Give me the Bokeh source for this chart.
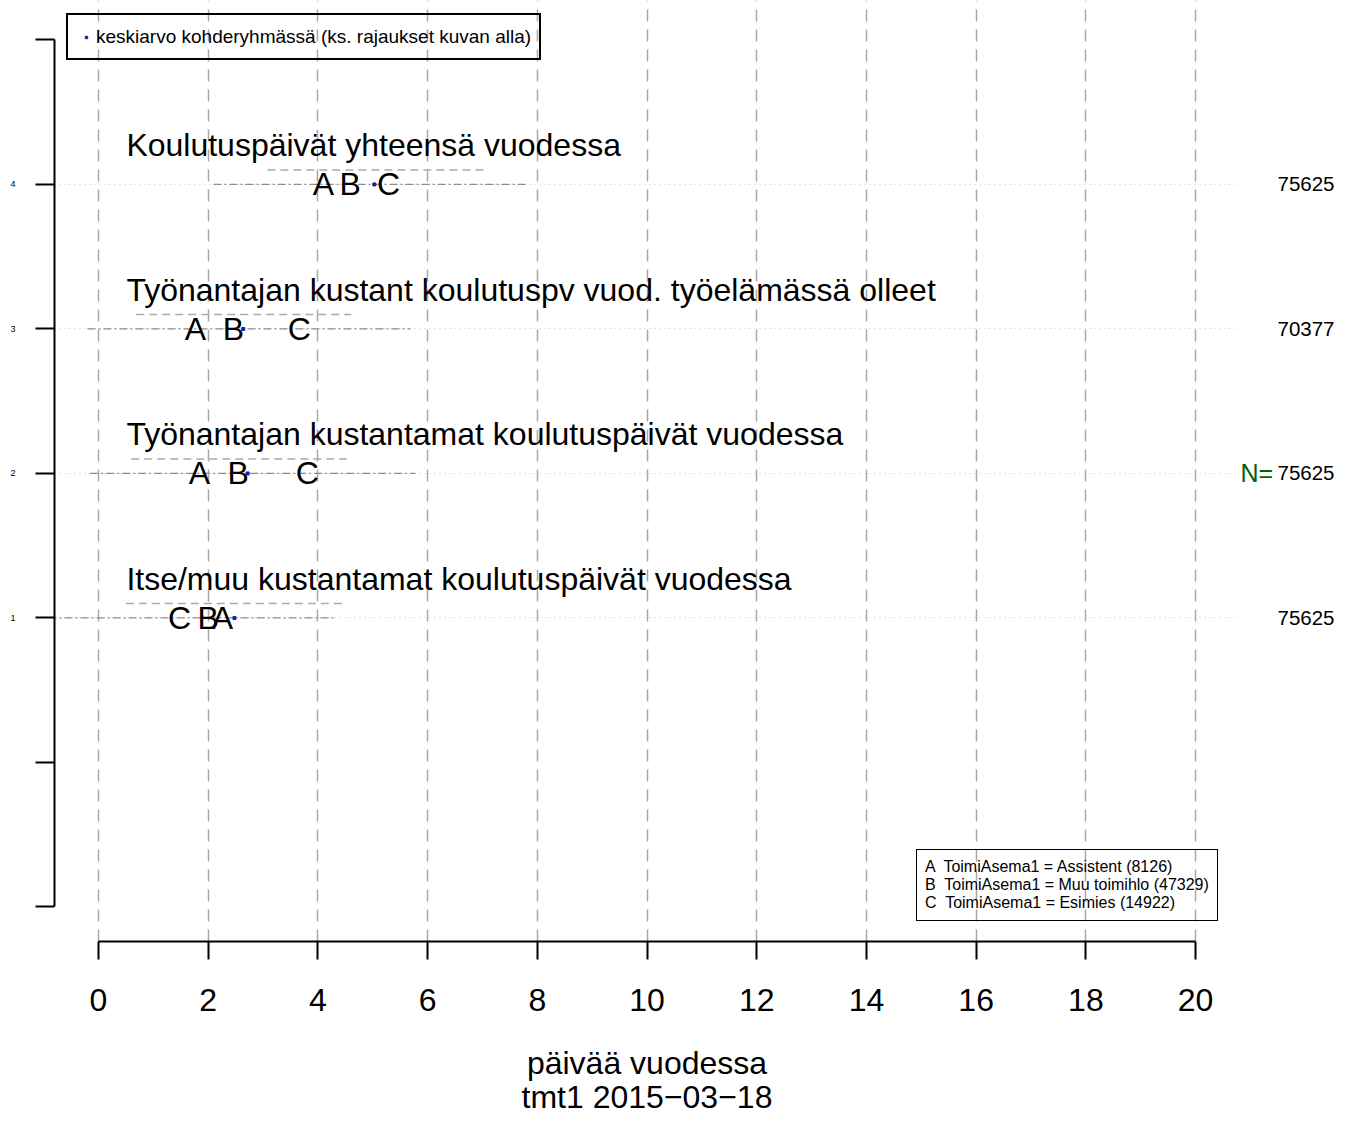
from bokeh.plotting import figure
from bokeh.models import Range1d, LinearAxis, FixedTicker, Legend, LegendItem
from bokeh.embed import file_html
from bokeh.resources import INLINE
from bokeh.core.properties import value

FONT = "Liberation Sans"

# ---- data ----
rows = [1, 2, 3, 4]
row_titles = [
    "Itse/muu kustantamat koulutuspäivät vuodessa",
    "Työnantajan kustantamat koulutuspäivät vuodessa",
    "Työnantajan kustant koulutuspv vuod. työelämässä olleet",
    "Koulutuspäivät yhteensä vuodessa",
]
n_counts = [75625, 75625, 70377, 75625]
n_marker_row = 2
mean_a = [2.26, 1.84, 1.77, 4.10]
mean_b = [2.00, 2.55, 2.46, 4.59]
mean_c = [1.48, 3.81, 3.66, 5.29]
mean_all = [2.48, 2.72, 2.64, 5.03]
band_lo = [0.50, 0.60, 0.69, 3.08]
band_hi = [4.45, 4.53, 4.61, 7.02]
spread_lo = [-1.20, -0.15, -0.20, 2.10]
spread_hi = [4.30, 5.78, 5.69, 7.80]
group_letters = ["A", "B", "C"]
group_labels = [
    "ToimiAsema1 = Assistent (8126)",
    "ToimiAsema1 = Muu toimihlo (47329)",
    "ToimiAsema1 = Esimies (14922)",
]
x_ticks = list(range(0, 21, 2))
y_ticks = [-1, 0, 1, 2, 3, 4, 5]
legend_mean_label = "keskiarvo kohderyhmässä (ks. rajaukset kuvan alla)"
x_title = "päivää vuodessa"
sub_title = "tmt1 2015\u221203\u221218"

p = figure(width=1343, height=1119,
           x_range=Range1d(-0.8, 20.8), y_range=Range1d(-1.239, 5.273),
           output_backend="svg", toolbar_location=None,
           min_border_left=54, min_border_right=104, min_border_top=0, min_border_bottom=178)
p.outline_line_color = None
p.background_fill_color = "white"
p.border_fill_color = "white"

# x axis
xa = p.xaxis[0]
xa.ticker = FixedTicker(ticks=x_ticks)
xa.bounds = (0, 20)
xa.axis_line_width = 2
xa.major_tick_line_width = 2
xa.major_tick_out = 18
xa.major_tick_in = 0
xa.minor_tick_line_color = None
xa.major_label_text_font = FONT
xa.major_label_text_font_size = "32px"
xa.major_label_text_color = "black"
xa.major_label_standoff = 29
xa.axis_label = x_title + "\n" + sub_title
xa.axis_label_text_font = FONT
xa.axis_label_text_font_size = "32px"
xa.axis_label_text_font_style = "normal"
xa.axis_label_text_color = "black"
xa.axis_label_text_line_height = 0.97
xa.axis_label_standoff = 31

# y axis
ya = p.yaxis[0]
ya.ticker = FixedTicker(ticks=y_ticks)
ya.bounds = (-1, 5)
ya.axis_line_width = 2
ya.major_tick_line_width = 2
ya.major_tick_out = 19
ya.major_tick_in = 0
ya.minor_tick_line_color = None
ya.major_label_text_font = FONT
ya.major_label_text_font_size = "9px"
ya.major_label_text_color = "black"
ya.major_label_standoff = 20
ya.major_label_overrides = {t: (str(t) if t in rows else "") for t in y_ticks}

# grids
p.xgrid[0].ticker = FixedTicker(ticks=x_ticks)
p.xgrid[0].grid_line_color = "#A8A8A8"
p.xgrid[0].grid_line_dash = "12 8"
p.xgrid[0].grid_line_width = 1.5
p.ygrid[0].ticker = FixedTicker(ticks=rows)
p.ygrid[0].grid_line_color = "#C8C8C8"
p.ygrid[0].grid_line_dash = "1 4"
p.ygrid[0].grid_line_width = 1

# right side: green "N=" then the counts
na = LinearAxis(ticker=FixedTicker(ticks=[n_marker_row]),
                major_label_overrides={n_marker_row: "N="},
                axis_line_color=None, major_tick_line_color=None, minor_tick_line_color=None,
                major_tick_out=0, major_tick_in=0, major_label_standoff=1,
                major_label_text_font=FONT, major_label_text_font_size="25px",
                major_label_text_color="#006400")
p.add_layout(na, "right")
ra = LinearAxis(ticker=FixedTicker(ticks=rows),
                major_label_overrides={r: str(n) for r, n in zip(rows, n_counts)},
                axis_line_color=None, major_tick_line_color=None, minor_tick_line_color=None,
                major_tick_out=0, major_tick_in=0, major_label_standoff=1,
                major_label_text_font=FONT, major_label_text_font_size="20.5px",
                major_label_text_color="black")
p.add_layout(ra, "right")

# lines
p.segment(x0=spread_lo, y0=rows, x1=spread_hi, y1=rows,
          line_color="#8C8C8C", line_dash="8 3 2 3", line_width=1.2)
band_y = [r + 0.1 for r in rows]
p.segment(x0=band_lo, y0=band_y, x1=band_hi, y1=band_y,
          line_color="#AAAAAA", line_dash="8 5", line_width=1.5)

# titles per row
p.text(x=[0] * len(rows), y=rows, text=row_titles, x_offset=28, y_offset=-39,
       text_align="left", text_baseline="middle",
       text_font=value(FONT), text_font_size="32px", text_color="black")

# letters
letter_renderers = []
for letter, means in zip(group_letters, [mean_a, mean_b, mean_c]):
    r = p.text(x=means, y=rows, text=[letter] * len(rows),
               text_align="center", text_baseline="middle",
               text_font=value(FONT), text_font_size="32px", text_color="black")
    letter_renderers.append(r)

# overall mean dots
r_mean = p.scatter(x=mean_all, y=rows, marker="square", size=3,
                   fill_color="#1A1AB0", line_color="#1A1AB0")

# legends
leg1 = Legend(items=[LegendItem(label=legend_mean_label, renderers=[r_mean])],
              location=(12, 881), orientation="vertical",
              padding=8, margin=0, spacing=0,
              glyph_width=20, glyph_height=6, label_standoff=0, label_height=27,
              label_text_font=FONT, label_text_font_size="19px", label_text_color="black",
              border_line_color="black", border_line_width=2, border_line_alpha=1,
              background_fill_alpha=0)
p.add_layout(leg1, "center")

leg2 = Legend(items=[LegendItem(label=f"{l}  {t}", renderers=[r])
                     for l, t, r in zip(group_letters, group_labels, letter_renderers)],
              location=(862, 20), orientation="vertical",
              padding=8, margin=0, spacing=0,
              glyph_width=0, glyph_height=18, label_standoff=0, label_height=18,
              label_text_font=FONT, label_text_font_size="16px", label_text_color="black",
              border_line_color="black", border_line_width=1, border_line_alpha=1,
              background_fill_alpha=0)
p.add_layout(leg2, "center")

open("out.html", "w").write(file_html(p, INLINE))
